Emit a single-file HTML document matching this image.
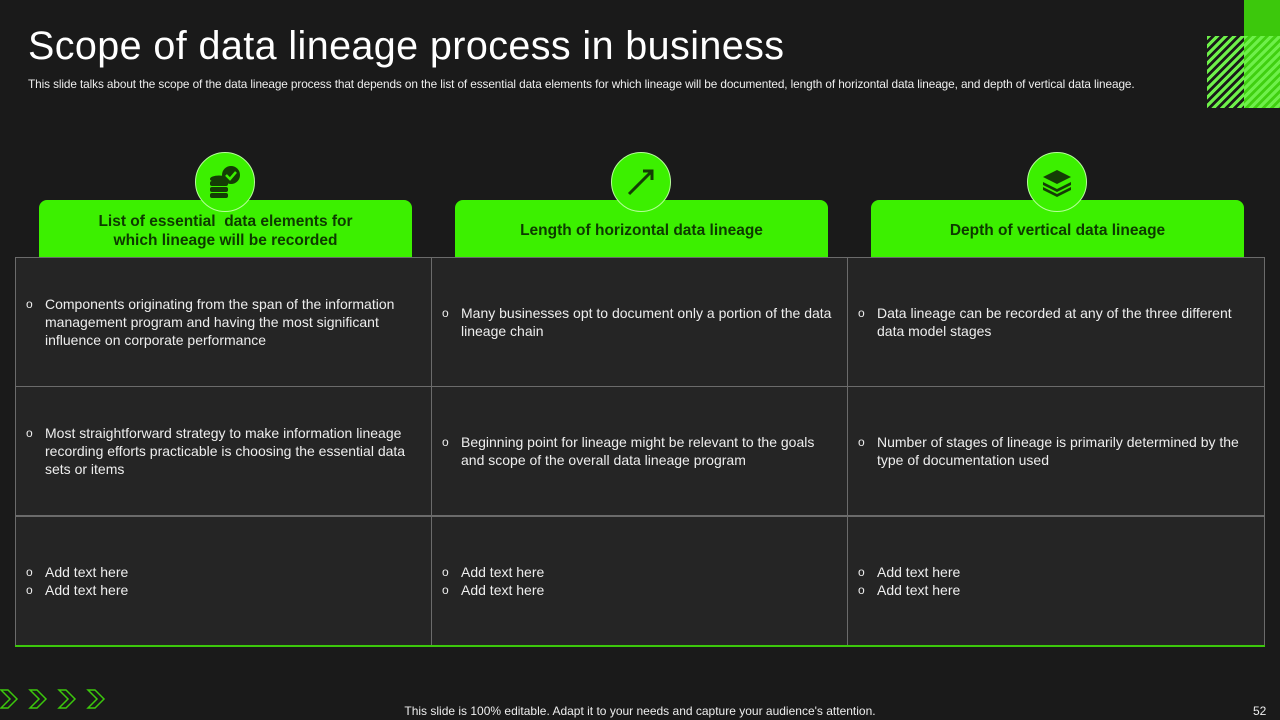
<!DOCTYPE html><html><head><style>
body{margin:0;width:1280px;height:720px;background:#1a1a1a;font-family:"Liberation Sans",sans-serif;position:relative;overflow:hidden;color:#fff}
.a{position:absolute}
h1{position:absolute;left:28px;top:24px;margin:0;font-weight:400;font-size:39.5px;color:#fff;letter-spacing:0.4px}
.sub{left:28px;top:77px;font-size:11.8px;color:#eee;white-space:nowrap;letter-spacing:-0.1px}
.hd{background:#3cf000;border-radius:8px 8px 0 0;height:57px;top:200px;width:373px;color:#0d3a00;font-weight:bold;font-size:15.5px;display:flex;align-items:center;justify-content:center;text-align:center;line-height:19px;padding-top:4px;box-sizing:border-box}
.c{width:60px;height:60px;border-radius:50%;background:#3cf000;border:1.5px solid #b6ff9a;top:152px;box-sizing:border-box;display:flex;align-items:center;justify-content:center}
.cell{background:#252525;border:1px solid #6b6b6b;box-sizing:border-box;width:417px;height:130px;display:flex;align-items:center;font-size:14px;color:#eee;line-height:18px}
.cell ul{margin:0;padding:0 0 0 29px;list-style:none}
.cell li{position:relative;padding-right:12px}
.cell li:before{content:"o";position:absolute;left:-19px;top:0;font-size:12px}
</style></head><body>
<h1>Scope of data lineage process in business</h1>
<div class="a sub">This slide talks about the scope of the data lineage process that depends on the list of essential data elements for which lineage will be documented, length of horizontal data lineage, and depth of vertical data lineage.</div>
<div class="a" style="left:1244px;top:0;width:36px;height:108px;background:#3cc80c"></div>
<div class="a" style="left:1207px;top:36px;width:73px;height:72px;background:repeating-linear-gradient(135deg,#6ef04a 0 3px,transparent 3px 6px)"></div>
<div class="a" style="left:1244px;top:36px;width:36px;height:72px;background:repeating-linear-gradient(135deg,#6ef04a 0 3px,#40d010 3px 6px)"></div>

<div class="a hd" style="left:39px">List of essential &nbsp;data elements for<br>which lineage will be recorded</div>
<div class="a hd" style="left:455px">Length of horizontal data lineage</div>
<div class="a hd" style="left:871px">Depth of vertical data lineage</div>

<div class="a c" style="left:195px"><svg width="40" height="40" viewBox="0 0 40 40"><g fill="#143d05"><ellipse cx="14" cy="17" rx="9" ry="3.5"/><rect x="5" y="19" width="18" height="5" rx="2"/><rect x="5" y="25" width="18" height="5" rx="2"/><rect x="5" y="31" width="18" height="5" rx="2"/><circle cx="26" cy="13" r="9"/></g><path d="M21 13l4 4 6-7" stroke="#3cf000" stroke-width="2.5" fill="none"/></svg></div>
<div class="a c" style="left:611px"><svg width="40" height="40" viewBox="0 0 40 40"><g stroke="#143d05" stroke-width="3" fill="none"><path d="M8 32L30 10"/><path d="M22 9h9v9"/></g></svg></div>
<div class="a c" style="left:1027px"><svg width="40" height="40" viewBox="0 0 40 40"><g fill="#143d05"><path d="M20 8l14 7-14 7-14-7z"/><path d="M6 20l14 7 14-7v3l-14 7-14-7z"/><path d="M6 25l14 7 14-7v3l-14 7-14-7z"/></g></svg></div>

<div class="a cell" style="left:15px;top:257px"><ul><li>Components originating from the span of the information management program and having the most significant influence on corporate performance</li></ul></div>
<div class="a cell" style="left:431px;top:257px"><ul><li>Many businesses opt to document only a portion of the data lineage chain</li></ul></div>
<div class="a cell" style="left:847px;top:257px;width:418px"><ul><li>Data lineage can be recorded at any of the three different data model stages</li></ul></div>
<div class="a cell" style="left:15px;top:386px"><ul><li>Most straightforward strategy to make information lineage recording efforts practicable is choosing the essential data sets or items</li></ul></div>
<div class="a cell" style="left:431px;top:386px"><ul><li>Beginning point for lineage might be relevant to the goals and scope of the overall data lineage program</li></ul></div>
<div class="a cell" style="left:847px;top:386px;width:418px"><ul><li>Number of stages of lineage is primarily determined by the type of documentation used</li></ul></div>
<div class="a cell" style="left:15px;top:516px"><ul><li>Add text here</li><li>Add text here</li></ul></div>
<div class="a cell" style="left:431px;top:516px"><ul><li>Add text here</li><li>Add text here</li></ul></div>
<div class="a cell" style="left:847px;top:516px;width:418px"><ul><li>Add text here</li><li>Add text here</li></ul></div>
<div class="a" style="left:15px;top:645px;width:1250px;height:2px;background:#3cc80c"></div>

<svg class="a" style="left:0;top:688px" width="110" height="22"><g fill="none" stroke="#3cc80c" stroke-width="1.5"><path d="M1 2h7l9 9-9 9H1l9-9z"/><path d="M30 2h7l9 9-9 9h-7l9-9z"/><path d="M59 2h7l9 9-9 9h-7l9-9z"/><path d="M88 2h7l9 9-9 9h-7l9-9z"/></g></svg>
<div class="a" style="left:0;width:1280px;top:704px;text-align:center;font-size:12px;color:#eee">This slide is 100% editable. Adapt it to your needs and capture your audience's attention.</div>
<div class="a" style="left:1253px;top:704px;font-size:12px;color:#eee">52</div>
</body></html>
